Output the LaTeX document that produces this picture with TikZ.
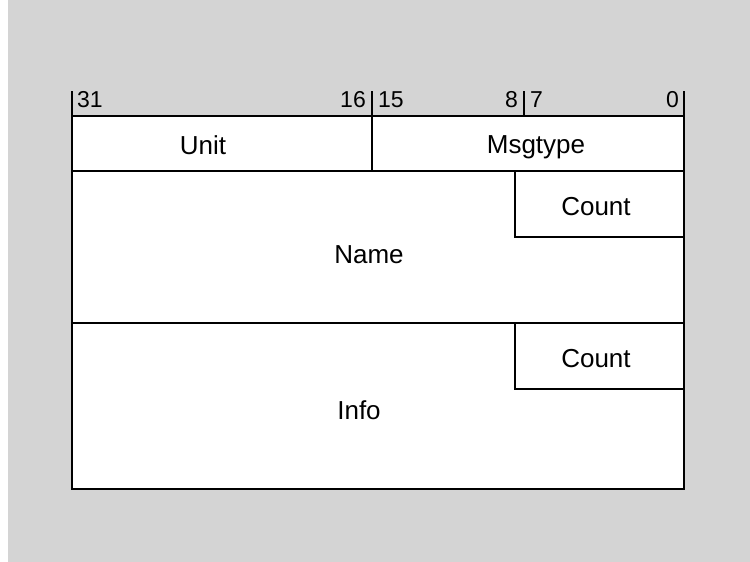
\documentclass[tikz,border=0pt]{standalone}
\usepackage{fontspec}
\setmainfont{Liberation Sans}
\begin{document}
\begin{tikzpicture}[x=1pt,y=-1pt,
  frame/.style={line width=2pt, line cap=rect},
  lbl/.style={anchor=base, inner sep=0pt, font=\fontsize{26}{31}\selectfont},
  bitl/.style={anchor=base west, inner sep=0pt, font=\fontsize{23}{27}\selectfont},
  bitr/.style={anchor=base east, inner sep=0pt, font=\fontsize{23}{27}\selectfont}]
\useasboundingbox (0,0) rectangle (750,562);
\fill[white] (0,0) rectangle (750,562);
\fill[black!17] (8,0) rectangle (750,562);
% white record area
\fill[white] (72,116) rectangle (684,489);
% outer frame
\draw[frame] (72,116) rectangle (684,489);
% header ticks
\draw[frame] (72,92) -- (72,116);
\draw[frame] (372,92) -- (372,116);
\draw[frame] (524,92) -- (524,116);
\draw[frame] (684,92) -- (684,116);
% rows
\draw[frame] (72,171) -- (684,171);
\draw[frame] (372,116) -- (372,171);
\draw[frame] (72,323) -- (684,323);
% count boxes
\draw[frame] (515,171) -- (515,237) -- (684,237);
\draw[frame] (515,323) -- (515,389) -- (684,389);
% bit numbers
\node[bitl] (b31) at (77,107) {31};
\node[bitr] (b16) at (366,107) {16};
\node[bitl] (b15) at (378,107) {15};
\node[bitr] (b8) at (518,107) {8};
\node[bitl] (b7) at (530,107) {7};
\node[bitr] (b0) at (679,107) {0};
% labels
\node[lbl] (unit) at (203,154) {Unit};
\node[lbl] (msg) at (536,153) {Msgtype};
\node[lbl] (cnt1) at (596,215) {Count};
\node[lbl] (name) at (369,263) {Name};
\node[lbl] (cnt2) at (596,367) {Count};
\node[lbl] (info) at (359,419) {Info};
\end{tikzpicture}
\end{document}
